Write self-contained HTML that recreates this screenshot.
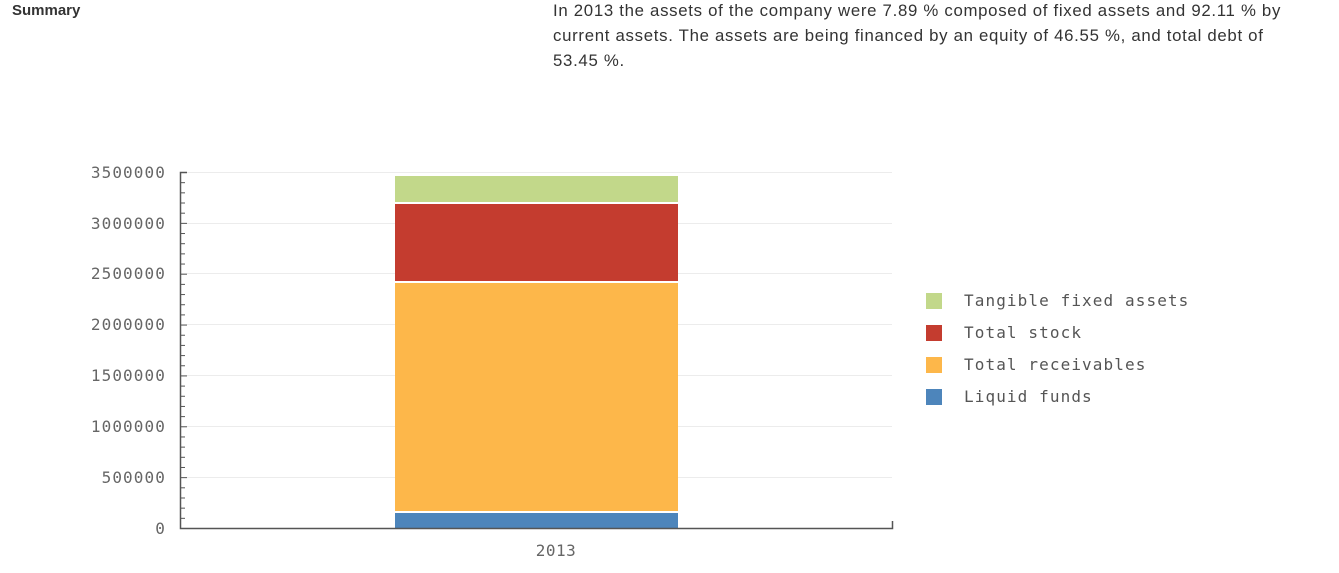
<!DOCTYPE html>
<html><head><style>
body{margin:0;width:1339px;height:573px;background:#fff;overflow:hidden;position:relative;font-family:"Liberation Sans",Arial,sans-serif}
#s{position:absolute;left:12px;top:2px;font-weight:bold;font-size:15px;color:#333}
#p{position:absolute;left:553px;top:-2px;font-size:16.8px;letter-spacing:0.7px;line-height:25px;color:#333;white-space:nowrap}
svg{position:absolute;left:0;top:0}
</style></head><body>
<div id="s">Summary</div>
<div id="p">In 2013 the assets of the company were 7.89 % composed of fixed assets and 92.11 % by<br>current assets. The assets are being financed by an equity of 46.55 %, and total debt of<br>53.45 %.</div>
<svg width="1339" height="573" xmlns="http://www.w3.org/2000/svg">
<g stroke="#ececec" stroke-width="1">
<line x1="181" y1="172.5" x2="892" y2="172.5"/>
<line x1="181" y1="223.5" x2="892" y2="223.5"/>
<line x1="181" y1="273.5" x2="892" y2="273.5"/>
<line x1="181" y1="324.5" x2="892" y2="324.5"/>
<line x1="181" y1="375.5" x2="892" y2="375.5"/>
<line x1="181" y1="426.5" x2="892" y2="426.5"/>
<line x1="181" y1="477.5" x2="892" y2="477.5"/>
</g>
<rect x="395" y="176" width="283" height="26" fill="#c2d88a"/>
<rect x="395" y="204" width="283" height="77" fill="#c43c2f"/>
<rect x="395" y="283" width="283" height="228" fill="#fdb74a"/>
<rect x="395" y="513" width="283" height="15" fill="#4d85bb"/>
<g stroke="#555" stroke-width="1.5" fill="none">
<polyline points="187,172.5 180.5,172.5 180.5,528.5 892.5,528.5 892.5,521"/>
</g>
<g stroke="#555" stroke-width="1" id="t"></g>
<g font-family="'DejaVu Sans Mono','Liberation Mono',monospace" font-size="16" letter-spacing="1.1" fill="#666" text-anchor="end">
<text x="166" y="178">3500000</text>
<text x="166" y="229">3000000</text>
<text x="166" y="279">2500000</text>
<text x="166" y="330">2000000</text>
<text x="166" y="381">1500000</text>
<text x="166" y="432">1000000</text>
<text x="166" y="483">500000</text>
<text x="166" y="534">0</text>
<text x="556" y="556" text-anchor="middle" letter-spacing="0.5">2013</text>
</g>
<rect x="926" y="293" width="16" height="16" fill="#c2d88a"/>
<rect x="926" y="325" width="16" height="16" fill="#c43c2f"/>
<rect x="926" y="357" width="16" height="16" fill="#fdb74a"/>
<rect x="926" y="389" width="16" height="16" fill="#4d85bb"/>
<g font-family="'DejaVu Sans Mono','Liberation Mono',monospace" font-size="16" letter-spacing="1.1" fill="#555">
<text x="964" y="306">Tangible fixed assets</text>
<text x="964" y="338">Total stock</text>
<text x="964" y="370">Total receivables</text>
<text x="964" y="402">Liquid funds</text>
</g>
</svg>
<script>
var g=document.getElementById('t'),s='';
for(var i=0;i<=35;i++){var y=528.5-i*356/35;s+='<line x1="180" y1="'+y+'" x2="'+(i%5==0?187:185)+'" y2="'+y+'"/>';}
g.innerHTML=s;
</script>
</body></html>
